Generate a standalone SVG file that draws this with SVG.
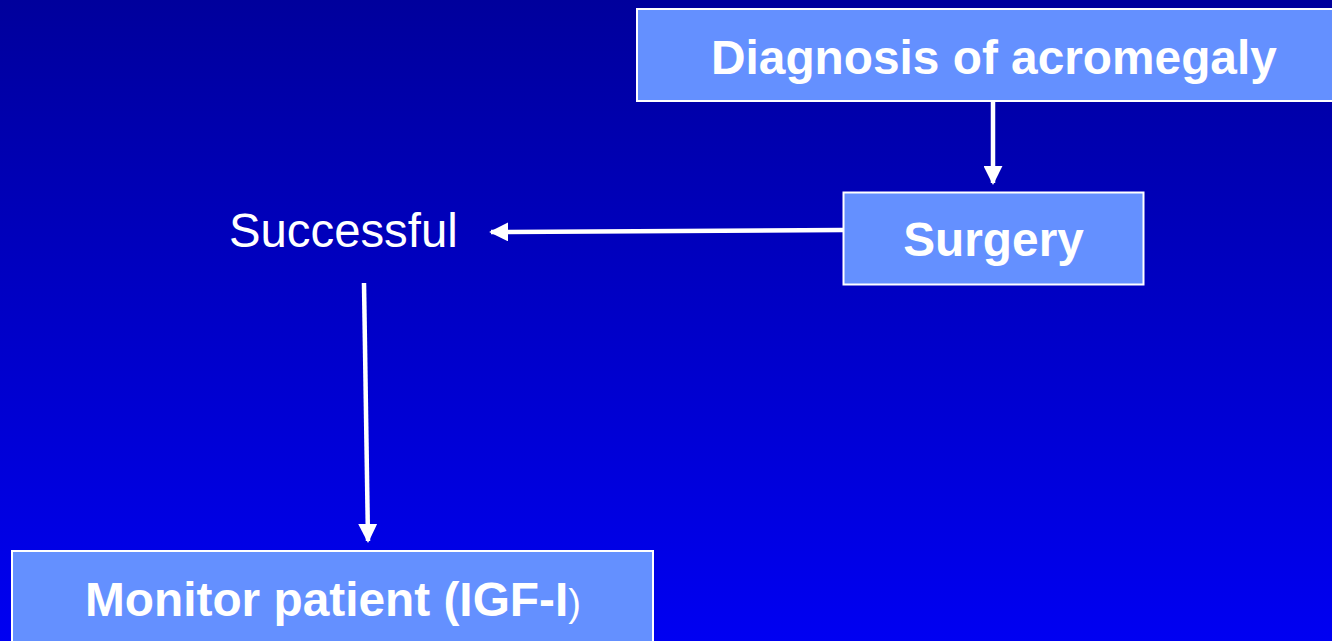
<svg xmlns="http://www.w3.org/2000/svg" width="1332" height="641" viewBox="0 0 1332 641">
  <defs>
    <linearGradient id="bg" x1="0" y1="0" x2="0" y2="1">
      <stop offset="0" stop-color="#00009C"/>
      <stop offset="1" stop-color="#0000F2"/>
    </linearGradient>
    <marker id="ah" viewBox="0 0 10 10" refX="9" refY="5" markerWidth="19" markerHeight="19" markerUnits="userSpaceOnUse" orient="auto">
      <path d="M0,0 L10,5 L0,10 Z" fill="#FFFFFF"/>
    </marker>
    <style>
      .box { fill: #6490FF; stroke: #FFFFFF; stroke-width: 2; }
      .bt { font-family: "Liberation Sans", Arial, sans-serif; font-weight: bold; font-size: 47.8px; fill: #FFFFFF; }
      .rt { font-family: "Liberation Sans", Arial, sans-serif; font-size: 47.3px; fill: #FFFFFF; }
      .conn { stroke: #FFFFFF; stroke-width: 4.5; fill: none; marker-end: url(#ah); }
    </style>
  </defs>
  <rect x="0" y="0" width="1332" height="641" fill="url(#bg)"/>

  <g id="connectors">
    <line class="conn" x1="993" y1="102" x2="993" y2="183"/>
    <line class="conn" x1="843" y1="230" x2="491" y2="232"/>
    <line class="conn" x1="364" y1="283" x2="368" y2="541"/>
  </g>

  <g id="diagnosis">
    <rect class="box" x="637" y="9" width="705" height="92"/>
    <text class="bt" x="711" y="74">Diagnosis of acromegaly</text>
  </g>

  <g id="surgery">
    <rect class="box" x="843.5" y="192.5" width="300" height="92"/>
    <text class="bt" x="993.5" y="256" text-anchor="middle">Surgery</text>
  </g>

  <g id="successful">
    <text class="rt" x="229" y="247">Successful</text>
  </g>

  <g id="monitor">
    <rect class="box" x="12" y="551" width="641" height="100"/>
    <text class="bt" x="85" y="616">Monitor patient (IGF-I<tspan font-weight="normal" font-size="38px">)</tspan></text>
  </g>
</svg>
